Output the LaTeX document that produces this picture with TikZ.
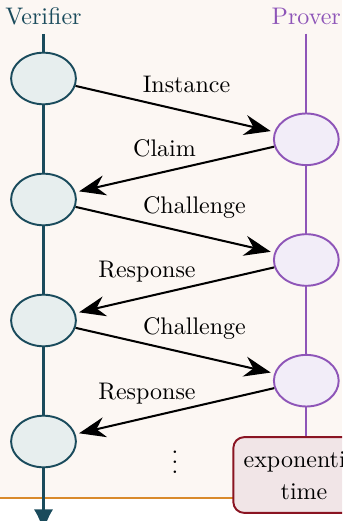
\documentclass[tikz,border=0pt]{standalone}
\usetikzlibrary{arrows.meta,shapes.geometric,backgrounds}

\definecolor{verif}{HTML}{1A4B5C}
\definecolor{veriffill}{HTML}{E7EEEE}
\definecolor{prov}{HTML}{8E55B8}
\definecolor{provfill}{HTML}{F2EDF8}
\definecolor{paper}{HTML}{FCF7F3}
\definecolor{rulecol}{HTML}{D98A2B}
\definecolor{boxedge}{HTML}{8A1422}
\definecolor{boxfill}{HTML}{F1E5E7}

\begin{document}
\begin{tikzpicture}[x=0.41667pt,y=-0.41667pt,
  party/.style={anchor=base,inner sep=3.33pt},
  vnode/.style={ellipse,draw=verif,fill=veriffill,line width=0.8pt,
    minimum width=27pt,minimum height=21.5pt,inner sep=0pt},
  pnode/.style={ellipse,draw=prov,fill=provfill,line width=0.8pt,
    minimum width=27pt,minimum height=21.5pt,inner sep=0pt},
  msg/.style={-{Stealth[length=11pt,width=8.4pt]},line width=0.85pt,
    shorten >=1.5pt},
  msglabel/.style={anchor=base,inner sep=0pt,text=black},
  timebox/.style={draw=boxedge,fill=boxfill,line width=0.8pt,
    rounded corners=4.5pt,align=center,inner xsep=4.3pt,inner ysep=5.6pt}]

\useasboundingbox (0,0) rectangle (342,521);
\clip (0,0) rectangle (342,521);

% party names
\node[party,text=verif] (vlab) at (43.5,25) {Verifier};
\node[party,text=prov]  (plab) at (306.3,25) {Prover};

% verifier states
\node[vnode] (v1) at (43.5,78.5) {};
\node[vnode] (v2) at (43.5,199.5) {};
\node[vnode] (v3) at (43.5,320.5) {};
\node[vnode] (v4) at (43.5,441.5) {};

% prover states
\node[pnode] (p1) at (306.3,139.3) {};
\node[pnode] (p2) at (306.3,260) {};
\node[pnode] (p3) at (306.3,380.7) {};

% prover's running time
\node[timebox] (tbox) at (304,475) {exponential\\[1.3pt]time};

\node[anchor=base,inner sep=0pt] (dots) at (175,473) {$\vdots$};

\coordinate (vend) at (43.5,531);

% background, horizontal rule and time lines
\begin{scope}[on background layer]
  \fill[paper] (0,0) rectangle (342,498);
  \draw[rulecol,line width=0.8pt] (0,498) -- (342,498);
  \draw[verif,line width=0.9pt,-{Latex[length=9pt,width=8pt]}]
    (vlab.south) -- (vend);
  \draw[prov,line width=0.85pt] (plab.south) -- (plab.south |- tbox.north);
\end{scope}

% messages
\draw[msg] (v1) -- (p1);
\draw[msg] (p1) -- (v2);
\draw[msg] (v2) -- (p2);
\draw[msg] (p2) -- (v3);
\draw[msg] (v3) -- (p3);
\draw[msg] (p3) -- (v4);

\node[msglabel] (l1) at (186.5,93)  {Instance};
\node[msglabel] (l2) at (164.5,157) {Claim};
\node[msglabel] (l3) at (194.5,214) {Challenge};
\node[msglabel] (l4) at (147,278)   {Response};
\node[msglabel] (l5) at (194.5,335) {Challenge};
\node[msglabel] (l6) at (147,399)   {Response};
\end{tikzpicture}
\end{document}
